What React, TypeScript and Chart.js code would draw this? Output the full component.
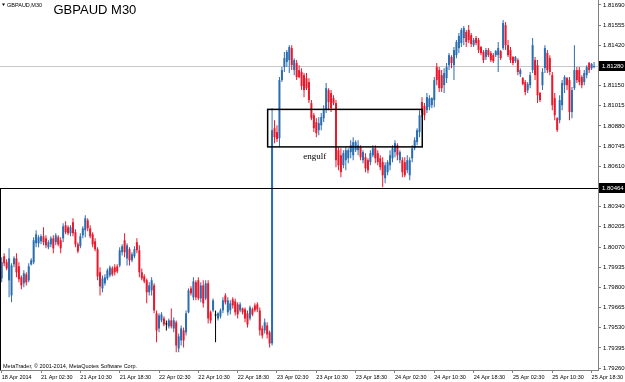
import React, { useEffect, useRef } from "react";
import { Chart, registerables } from "chart.js";

Chart.register(...registerables);

// ---- GBPAUD M30 candles (bar 0 = 18 Apr 2014 ... bar 241 = 25 Apr ~19:00) ----
const OPEN = [
  1.79860, 1.80008, 1.79968, 1.79847, 1.79746, 1.79954, 1.79994, 1.79941, 1.79867, 1.79827,
  1.79887, 1.79847, 1.79954, 1.79968, 1.80095, 1.80095, 1.80108, 1.80142, 1.80128, 1.80068,
  1.80088, 1.80128, 1.80102, 1.80135, 1.80115, 1.80128, 1.80215, 1.80202, 1.80162, 1.80236,
  1.80169, 1.80088, 1.80075, 1.80148, 1.80182, 1.80249, 1.80195, 1.80155, 1.80108, 1.80055,
  1.79901, 1.79793, 1.79827, 1.79860, 1.79880, 1.79927, 1.79934, 1.79941, 1.79947, 1.80035,
  1.80115, 1.79994, 1.80055, 1.79981, 1.80008, 1.80102, 1.80048, 1.79901, 1.79874, 1.79847,
  1.79767, 1.79780, 1.79813, 1.79626, 1.79525, 1.79579, 1.79592, 1.79552, 1.79539, 1.79579,
  1.79525, 1.79566, 1.79391, 1.79445, 1.79512, 1.79499, 1.79633, 1.79793, 1.79733, 1.79834,
  1.79847, 1.79726, 1.79813, 1.79726, 1.79827, 1.79633, 1.79646, 1.79612, 1.79592, 1.79606,
  1.79646, 1.79746, 1.79633, 1.79646, 1.79720, 1.79706, 1.79686, 1.79646, 1.79659, 1.79653,
  1.79626, 1.79592, 1.79653, 1.79679, 1.79686, 1.79646, 1.79525, 1.79512, 1.79545, 1.79499,
  1.79425, 1.80865, 1.80839, 1.80798, 1.81187, 1.81274, 1.81308, 1.81321, 1.81401, 1.81254,
  1.81301, 1.81254, 1.81241, 1.81220, 1.81200, 1.81174, 1.81033, 1.80952, 1.80906, 1.80852,
  1.80885, 1.80932, 1.80986, 1.81120, 1.81100, 1.81066, 1.81033, 1.80718, 1.80684, 1.80617,
  1.80651, 1.80664, 1.80705, 1.80684, 1.80718, 1.80718, 1.80738, 1.80651, 1.80671, 1.80651,
  1.80638, 1.80684, 1.80731, 1.80698, 1.80664, 1.80638, 1.80530, 1.80571, 1.80617, 1.80664,
  1.80705, 1.80751, 1.80651, 1.80651, 1.80638, 1.80584, 1.80550, 1.80664, 1.80731, 1.80772,
  1.80839, 1.81040, 1.81013, 1.80986, 1.81006, 1.81019, 1.81053, 1.81274, 1.81254, 1.81220,
  1.81153, 1.81200, 1.81287, 1.81341, 1.81287, 1.81354, 1.81401, 1.81435, 1.81468, 1.81509,
  1.81522, 1.81488, 1.81421, 1.81468, 1.81455, 1.81408, 1.81375, 1.81341, 1.81388, 1.81368,
  1.81354, 1.81354, 1.81354, 1.81381, 1.81401, 1.81555, 1.81421, 1.81388, 1.81341, 1.81314,
  1.81321, 1.81227, 1.81200, 1.81174, 1.81120, 1.81153, 1.81254, 1.81321, 1.81287, 1.81100,
  1.81153, 1.81267, 1.81368, 1.81334, 1.81220, 1.81066, 1.80932, 1.80919, 1.81019, 1.81153,
  1.81200, 1.81187, 1.80973, 1.81133, 1.81254, 1.81254, 1.81207, 1.81174, 1.81220, 1.81301,
  1.81267, 1.81274,
];
const HIGH = [
  1.80001, 1.80028, 1.79988, 1.80061, 1.79961, 1.80008, 1.80028, 1.79968, 1.79880, 1.79914,
  1.79901, 1.79961, 1.79994, 1.80135, 1.80182, 1.80148, 1.80155, 1.80202, 1.80148, 1.80115,
  1.80142, 1.80148, 1.80162, 1.80148, 1.80135, 1.80229, 1.80242, 1.80215, 1.80215, 1.80262,
  1.80189, 1.80102, 1.80162, 1.80209, 1.80282, 1.80262, 1.80215, 1.80169, 1.80128, 1.80068,
  1.79934, 1.79880, 1.79887, 1.79927, 1.79947, 1.79941, 1.79954, 1.79954, 1.80068, 1.80088,
  1.80162, 1.80095, 1.80068, 1.80035, 1.80075, 1.80128, 1.80081, 1.79927, 1.79887, 1.79860,
  1.79834, 1.79867, 1.79827, 1.79646, 1.79626, 1.79633, 1.79606, 1.79579, 1.79592, 1.79659,
  1.79599, 1.79579, 1.79492, 1.79545, 1.79532, 1.79646, 1.79793, 1.79807, 1.79867, 1.79847,
  1.79867, 1.79834, 1.79847, 1.79847, 1.79847, 1.79646, 1.79726, 1.79646, 1.79633, 1.79659,
  1.79733, 1.79760, 1.79733, 1.79713, 1.79733, 1.79726, 1.79700, 1.79700, 1.79666, 1.79666,
  1.79646, 1.79679, 1.79666, 1.79693, 1.79700, 1.79666, 1.79545, 1.79592, 1.79566, 1.79512,
  1.80999, 1.80919, 1.80885, 1.81207, 1.81274, 1.81375, 1.81388, 1.81421, 1.81421, 1.81334,
  1.81321, 1.81287, 1.81267, 1.81234, 1.81234, 1.81200, 1.81053, 1.80966, 1.80932, 1.80939,
  1.80966, 1.81019, 1.81167, 1.81133, 1.81120, 1.81086, 1.81053, 1.80738, 1.80731, 1.80718,
  1.80738, 1.80731, 1.80785, 1.80805, 1.80785, 1.80785, 1.80751, 1.80718, 1.80698, 1.80664,
  1.80718, 1.80751, 1.80751, 1.80718, 1.80684, 1.80671, 1.80638, 1.80651, 1.80718, 1.80751,
  1.80785, 1.80765, 1.80718, 1.80671, 1.80671, 1.80684, 1.80671, 1.80751, 1.80805, 1.80865,
  1.80986, 1.81073, 1.81033, 1.81100, 1.81086, 1.81073, 1.81207, 1.81301, 1.81274, 1.81254,
  1.81267, 1.81301, 1.81368, 1.81354, 1.81408, 1.81455, 1.81502, 1.81535, 1.81549, 1.81522,
  1.81555, 1.81502, 1.81468, 1.81482, 1.81468, 1.81415, 1.81388, 1.81401, 1.81401, 1.81381,
  1.81368, 1.81388, 1.81442, 1.81388, 1.81589, 1.81576, 1.81455, 1.81408, 1.81348, 1.81348,
  1.81334, 1.81267, 1.81207, 1.81187, 1.81174, 1.81241, 1.81468, 1.81341, 1.81321, 1.81107,
  1.81267, 1.81421, 1.81388, 1.81354, 1.81241, 1.81100, 1.80939, 1.81086, 1.81187, 1.81220,
  1.81207, 1.81207, 1.81140, 1.81421, 1.81274, 1.81274, 1.81220, 1.81254, 1.81287, 1.81308,
  1.81301, 1.81308,
];
const LOW = [
  1.79834, 1.79941, 1.79914, 1.79733, 1.79700, 1.79934, 1.79867, 1.79834, 1.79787, 1.79800,
  1.79813, 1.79834, 1.79947, 1.79954, 1.80068, 1.80068, 1.80088, 1.80081, 1.80061, 1.80055,
  1.80068, 1.80028, 1.80081, 1.80075, 1.80028, 1.80102, 1.80155, 1.80148, 1.80142, 1.80142,
  1.80068, 1.80028, 1.80061, 1.80128, 1.80135, 1.80175, 1.80128, 1.80068, 1.80041, 1.79847,
  1.79746, 1.79767, 1.79813, 1.79847, 1.79867, 1.79874, 1.79880, 1.79894, 1.79934, 1.80014,
  1.80001, 1.79947, 1.79947, 1.79968, 1.79994, 1.80028, 1.79867, 1.79847, 1.79827, 1.79693,
  1.79746, 1.79746, 1.79626, 1.79432, 1.79499, 1.79566, 1.79539, 1.79512, 1.79525, 1.79525,
  1.79499, 1.79365, 1.79365, 1.79411, 1.79398, 1.79478, 1.79626, 1.79746, 1.79713, 1.79713,
  1.79713, 1.79700, 1.79666, 1.79713, 1.79559, 1.79559, 1.79633, 1.79432, 1.79579, 1.79592,
  1.79626, 1.79686, 1.79612, 1.79619, 1.79659, 1.79612, 1.79592, 1.79633, 1.79619, 1.79566,
  1.79532, 1.79579, 1.79606, 1.79633, 1.79633, 1.79478, 1.79458, 1.79492, 1.79458, 1.79398,
  1.79411, 1.80765, 1.80772, 1.80738, 1.81174, 1.81241, 1.81274, 1.81234, 1.81254, 1.81220,
  1.81187, 1.81200, 1.81120, 1.81073, 1.81120, 1.81033, 1.80919, 1.80839, 1.80805, 1.80818,
  1.80852, 1.80906, 1.80966, 1.80986, 1.80973, 1.81019, 1.80604, 1.80584, 1.80537, 1.80597,
  1.80584, 1.80631, 1.80664, 1.80651, 1.80705, 1.80684, 1.80651, 1.80631, 1.80571, 1.80564,
  1.80617, 1.80671, 1.80631, 1.80617, 1.80584, 1.80470, 1.80497, 1.80550, 1.80584, 1.80638,
  1.80671, 1.80651, 1.80631, 1.80537, 1.80537, 1.80564, 1.80517, 1.80638, 1.80718, 1.80751,
  1.80805, 1.80939, 1.80919, 1.80966, 1.80986, 1.80999, 1.81006, 1.81153, 1.81107, 1.81107,
  1.81100, 1.81167, 1.81254, 1.81267, 1.81187, 1.81334, 1.81368, 1.81408, 1.81421, 1.81408,
  1.81435, 1.81408, 1.81408, 1.81421, 1.81368, 1.81354, 1.81301, 1.81321, 1.81341, 1.81308,
  1.81301, 1.81341, 1.81241, 1.81321, 1.81388, 1.81388, 1.81341, 1.81301, 1.81287, 1.81301,
  1.81220, 1.81207, 1.81153, 1.81086, 1.81100, 1.81133, 1.81234, 1.81187, 1.81033, 1.81040,
  1.81120, 1.81234, 1.81234, 1.81220, 1.80986, 1.80919, 1.80839, 1.80899, 1.80986, 1.81100,
  1.81120, 1.80919, 1.80932, 1.81120, 1.81167, 1.81153, 1.81133, 1.81153, 1.81200, 1.81234,
  1.81254, 1.81267,
];
const CLOSE = [
  1.79968, 1.79961, 1.79927, 1.79994, 1.79947, 1.79994, 1.79901, 1.79854, 1.79813, 1.79894,
  1.79834, 1.79941, 1.79981, 1.80115, 1.80155, 1.80135, 1.80142, 1.80102, 1.80081, 1.80102,
  1.80128, 1.80061, 1.80148, 1.80088, 1.80061, 1.80209, 1.80169, 1.80162, 1.80202, 1.80162,
  1.80088, 1.80041, 1.80142, 1.80195, 1.80262, 1.80195, 1.80142, 1.80088, 1.80055, 1.79874,
  1.79807, 1.79860, 1.79867, 1.79914, 1.79934, 1.79887, 1.79901, 1.79907, 1.80048, 1.80075,
  1.80035, 1.80081, 1.79981, 1.80021, 1.80055, 1.80048, 1.79901, 1.79860, 1.79840, 1.79767,
  1.79813, 1.79847, 1.79646, 1.79512, 1.79612, 1.79619, 1.79552, 1.79552, 1.79579, 1.79539,
  1.79579, 1.79411, 1.79472, 1.79525, 1.79445, 1.79626, 1.79780, 1.79760, 1.79840, 1.79733,
  1.79726, 1.79813, 1.79693, 1.79827, 1.79592, 1.79579, 1.79713, 1.79612, 1.79626, 1.79646,
  1.79713, 1.79700, 1.79713, 1.79693, 1.79679, 1.79633, 1.79619, 1.79686, 1.79633, 1.79592,
  1.79552, 1.79666, 1.79619, 1.79646, 1.79653, 1.79512, 1.79478, 1.79566, 1.79485, 1.79425,
  1.80852, 1.80805, 1.80792, 1.81187, 1.81254, 1.81334, 1.81375, 1.81408, 1.81287, 1.81321,
  1.81207, 1.81207, 1.81147, 1.81120, 1.81133, 1.81053, 1.80932, 1.80865, 1.80832, 1.80899,
  1.80939, 1.80986, 1.81133, 1.81040, 1.80999, 1.81033, 1.80651, 1.80617, 1.80571, 1.80698,
  1.80718, 1.80718, 1.80751, 1.80772, 1.80772, 1.80751, 1.80671, 1.80705, 1.80597, 1.80584,
  1.80698, 1.80731, 1.80664, 1.80638, 1.80604, 1.80550, 1.80617, 1.80638, 1.80684, 1.80731,
  1.80765, 1.80684, 1.80705, 1.80571, 1.80550, 1.80651, 1.80651, 1.80731, 1.80785, 1.80852,
  1.80952, 1.80966, 1.80952, 1.81073, 1.81066, 1.81066, 1.81187, 1.81187, 1.81133, 1.81133,
  1.81234, 1.81274, 1.81354, 1.81301, 1.81388, 1.81442, 1.81482, 1.81522, 1.81535, 1.81442,
  1.81455, 1.81428, 1.81455, 1.81435, 1.81388, 1.81368, 1.81321, 1.81388, 1.81354, 1.81321,
  1.81314, 1.81381, 1.81401, 1.81334, 1.81569, 1.81421, 1.81354, 1.81321, 1.81301, 1.81341,
  1.81241, 1.81254, 1.81160, 1.81107, 1.81160, 1.81220, 1.81421, 1.81220, 1.81086, 1.81053,
  1.81241, 1.81401, 1.81254, 1.81241, 1.81019, 1.80952, 1.80852, 1.81053, 1.81167, 1.81207,
  1.81153, 1.80973, 1.81120, 1.81254, 1.81187, 1.81174, 1.81153, 1.81234, 1.81274, 1.81254,
  1.81294, 1.81280,
];

const TIME_LABELS = [
  "18 Apr 2014", "21 Apr 02:30", "21 Apr 10:30", "21 Apr 18:30", "22 Apr 02:30",
  "22 Apr 10:30", "22 Apr 18:30", "23 Apr 02:30", "23 Apr 10:30", "23 Apr 18:30",
  "24 Apr 02:30", "24 Apr 10:30", "24 Apr 18:30", "25 Apr 02:30", "25 Apr 10:30",
  "25 Apr 18:30",
];
const TIME_LABEL_BARS = [0, 16, 32, 48, 64, 80, 96, 112, 128, 144, 160, 176, 192, 208, 224, 240];

const PRICE_TICKS = [
  1.7926, 1.79395, 1.7953, 1.79665, 1.798, 1.79935, 1.8007, 1.80205, 1.8034, 1.80475,
  1.8061, 1.80745, 1.8088, 1.81015, 1.8115, 1.81285, 1.8142, 1.81555, 1.8169,
];

const BID_PRICE = 1.8128;
const HLINE_PRICE = 1.80464;
const BOX_BARS = [108.2, 171.1];
const BOX_PRICES = [1.80991, 1.8074];
const NOTE_BAR = 122.7;
const NOTE_PRICE = 1.80678;
const NOTE_TEXT = "engulf";

const BLUE = "#2a6db0";
const RED = "#e8192c";

export default function App() {
  const ref = useRef<HTMLCanvasElement | null>(null);

  useEffect(() => {
    const canvas = ref.current;
    if (!canvas) return;
    const idx = OPEN.map((_, i) => i);
    const colorFor = (i: number) =>
      CLOSE[i] > OPEN[i] ? BLUE : CLOSE[i] < OPEN[i] ? RED : "#000000";
    const colors = idx.map(colorFor);

    const overlay = {
      id: "mtOverlay",
      beforeDatasetsDraw(chart: any) {
        const { ctx, chartArea } = chart;
        const y = chart.scales.y;
        ctx.save();
        ctx.lineWidth = 1;
        ctx.strokeStyle = "#c8c8c8";
        const yb = Math.round(y.getPixelForValue(BID_PRICE)) + 0.5;
        ctx.beginPath();
        ctx.moveTo(chartArea.left, yb);
        ctx.lineTo(chartArea.right, yb);
        ctx.stroke();
        ctx.restore();
      },
      afterDatasetsDraw(chart: any) {
        const { ctx, chartArea } = chart;
        const x = chart.scales.x;
        const y = chart.scales.y;
        ctx.save();
        const yh = Math.round(y.getPixelForValue(HLINE_PRICE)) + 0.5;
        ctx.strokeStyle = "#000";
        ctx.lineWidth = 1;
        ctx.beginPath();
        ctx.moveTo(chartArea.left, yh);
        ctx.lineTo(chartArea.right, yh);
        ctx.stroke();
        ctx.beginPath();
        ctx.moveTo(chartArea.left + 0.5, yh);
        ctx.lineTo(chartArea.left + 0.5, chartArea.bottom);
        ctx.stroke();
        const x0 = x.getPixelForValue(BOX_BARS[0]);
        const x1 = x.getPixelForValue(BOX_BARS[1]);
        const y0 = y.getPixelForValue(BOX_PRICES[0]);
        const y1 = y.getPixelForValue(BOX_PRICES[1]);
        ctx.lineWidth = 1.5;
        ctx.strokeRect(x0, y0, x1 - x0, y1 - y0);
        ctx.fillStyle = "#000";
        ctx.font = "9px 'Liberation Serif', serif";
        ctx.textAlign = "left";
        ctx.textBaseline = "middle";
        ctx.fillText(NOTE_TEXT, x.getPixelForValue(NOTE_BAR), y.getPixelForValue(NOTE_PRICE));
        ctx.restore();
      },
      afterDraw(chart: any) {
        const { ctx, chartArea } = chart;
        const y = chart.scales.y;
        ctx.save();
        const boxes: [number, string][] = [
          [BID_PRICE, BID_PRICE.toFixed(5)],
          [HLINE_PRICE, HLINE_PRICE.toFixed(5)],
        ];
        ctx.font = "6px 'Liberation Sans', sans-serif";
        ctx.textBaseline = "middle";
        ctx.textAlign = "left";
        for (const [p, t] of boxes) {
          const py = y.getPixelForValue(p);
          ctx.fillStyle = "#000";
          ctx.fillRect(chartArea.right + 1, Math.round(py) - 5, 27, 10);
          ctx.fillStyle = "#fff";
          ctx.fillText(t, chartArea.right + 4, Math.round(py) + 0.5);
        }
        ctx.fillStyle = "#000";
        ctx.beginPath();
        ctx.moveTo(2, 3.5);
        ctx.lineTo(5, 3.5);
        ctx.lineTo(3.5, 6);
        ctx.closePath();
        ctx.fill();
        ctx.font = "5.5px 'Liberation Sans', sans-serif";
        ctx.fillText("GBPAUD,M30", 7, 5);
        ctx.font = "13px 'Liberation Sans', Arial, sans-serif";
        ctx.textBaseline = "alphabetic";
        ctx.fillText("GBPAUD M30", 53.5, 13.5);
        ctx.font = "5.5px 'Liberation Sans', sans-serif";
        ctx.textBaseline = "middle";
        ctx.fillText("MetaTrader, © 2001-2014, MetaQuotes Software Corp.", 3, 366);
        ctx.restore();
      },
    };

    const chart = new Chart(canvas, {
      type: "bar",
      data: {
        datasets: [
          {
            label: "wick",
            data: idx.map((i) => ({ x: i, y: [LOW[i], HIGH[i]] })) as any,
            backgroundColor: colors,
            barThickness: 1,
            grouped: false,
            inflateAmount: 0,
            order: 2,
          } as any,
          {
            label: "body",
            data: idx.map((i) => ({ x: i, y: [OPEN[i], CLOSE[i]] })) as any,
            backgroundColor: colors,
            barThickness: 2,
            minBarLength: 1,
            grouped: false,
            inflateAmount: 0,
            order: 1,
          } as any,
        ],
      },
      options: {
        animation: false,
        responsive: false,
        maintainAspectRatio: false,
        devicePixelRatio: 1,
        layout: { padding: 0 },
        plugins: {
          legend: { display: false },
          tooltip: { enabled: false },
        },
        scales: {
          x: {
            type: "linear",
            position: "bottom",
            min: -0.69,
            max: 242.6,
            offset: false,
            afterBuildTicks: (s: any) => {
              s.ticks = TIME_LABEL_BARS.map((v) => ({ value: v }));
            },
            afterFit: (s: any) => {
              s.height = 12;
              s.paddingLeft = 0;
              s.paddingRight = 0;
            },
            ticks: {
              autoSkip: false,
              maxRotation: 0,
              minRotation: 0,
              align: "start",
              padding: 1,
              color: "#000",
              font: { family: "'Liberation Sans', sans-serif", size: 5.5 },
              callback: (_v: any, i: number) => TIME_LABELS[i] ?? "",
            },
            grid: {
              display: true,
              drawOnChartArea: false,
              drawTicks: true,
              tickLength: 3,
              color: "#808080",
              offset: false,
            },
            border: { display: true, color: "#808080", width: 1 },
          },
          y: {
            type: "linear",
            position: "right",
            min: 1.79247,
            max: 1.81723,
            afterBuildTicks: (s: any) => {
              s.ticks = PRICE_TICKS.map((v) => ({ value: v }));
            },
            afterFit: (s: any) => {
              s.width = 27;
              s.paddingTop = 0;
              s.paddingBottom = 0;
            },
            ticks: {
              autoSkip: false,
              padding: 2,
              color: "#000",
              font: { family: "'Liberation Sans', sans-serif", size: 6 },
              callback: (v: any) => Number(v).toFixed(5),
            },
            grid: {
              display: true,
              drawOnChartArea: false,
              drawTicks: true,
              tickLength: 3,
              color: "#808080",
            },
            border: { display: true, color: "#808080", width: 1 },
          },
        },
      } as any,
      plugins: [overlay],
    });

    return () => chart.destroy();
  }, []);

  return (
    <div style={{ position: "absolute", left: 0, top: 0, width: 625, height: 382, background: "#fff" }}>
      <canvas ref={ref} width={625} height={382} style={{ width: 625, height: 382, display: "block" }} />
    </div>
  );
}
